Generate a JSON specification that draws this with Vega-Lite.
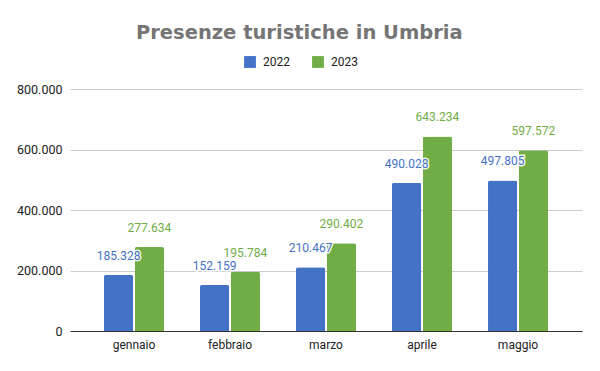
{
  "$schema": "https://vega.github.io/schema/vega-lite/v6.json",
  "width": 600,
  "height": 371,
  "autosize": {"type": "fit", "contains": "padding"},
  "padding": {"top": 22, "left": 16, "right": 18, "bottom": 21},
  "background": "white",
  "title": {
    "text": "Presenze turistiche in Umbria",
    "fontSize": 19.5,
    "font": "DejaVu Sans",
    "fontWeight": "bold",
    "color": "#757575",
    "anchor": "middle",
    "frame": "bounds",
    "offset": 40
  },
  "config": {
    "locale": {"number": {"decimal": ",", "thousands": ".", "grouping": [3], "currency": ["€", ""]}},
    "view": {"stroke": null},
    "font": "Roboto"
  },
  "data": {
    "values": [
      {"mese": "gennaio", "anno": "2022", "valore": 185328},
      {"mese": "gennaio", "anno": "2023", "valore": 277634},
      {"mese": "febbraio", "anno": "2022", "valore": 152159},
      {"mese": "febbraio", "anno": "2023", "valore": 195784},
      {"mese": "marzo", "anno": "2022", "valore": 210467},
      {"mese": "marzo", "anno": "2023", "valore": 290402},
      {"mese": "aprile", "anno": "2022", "valore": 490028},
      {"mese": "aprile", "anno": "2023", "valore": 643234},
      {"mese": "maggio", "anno": "2022", "valore": 497805},
      {"mese": "maggio", "anno": "2023", "valore": 597572}
    ]
  },
  "encoding": {
    "x": {
      "field": "mese",
      "type": "nominal",
      "sort": null,
      "scale": {"paddingInner": 0.375, "paddingOuter": 0.354},
      "axis": {"title": null, "labelAngle": 0, "labelFontSize": 12, "labelColor": "#222", "ticks": false, "domainColor": "#333", "labelPadding": 8}
    },
    "xOffset": {"field": "anno", "type": "nominal", "scale": {"paddingInner": 0.05}},
    "y": {
      "field": "valore",
      "type": "quantitative",
      "scale": {"domain": [0, 800000]},
      "axis": {"title": null, "values": [0, 200000, 400000, 600000, 800000], "format": ",d", "labelFontSize": 12.5, "labelColor": "#222", "ticks": false, "domain": false, "gridColor": "#cccccc", "labelPadding": 8}
    },
    "color": {
      "field": "anno",
      "type": "nominal",
      "scale": {"domain": ["2022", "2023"], "range": ["#4472C4", "#70AD47"]},
      "legend": {"title": null, "orient": "none", "legendX": 174, "legendY": -33, "padding": 0, "direction": "horizontal", "symbolType": "square", "symbolSize": 140, "symbolStrokeWidth": 0, "labelFontSize": 12, "labelColor": "#222", "labelOffset": 7, "columnPadding": 22}
    }
  },
  "layer": [
    {"mark": {"type": "bar", "cornerRadiusTopLeft": 2, "cornerRadiusTopRight": 2}},
    {
      "mark": {"type": "text", "baseline": "middle", "dy": -19, "fontSize": 12, "stroke": "white", "strokeWidth": 3, "strokeOpacity": 0.9},
      "encoding": {"text": {"field": "valore", "type": "quantitative", "format": ",d"}, "color": {"value": "white"}}
    },
    {
      "mark": {"type": "text", "baseline": "middle", "dy": -19, "fontSize": 12},
      "encoding": {"text": {"field": "valore", "type": "quantitative", "format": ",d"}}
    }
  ]
}
